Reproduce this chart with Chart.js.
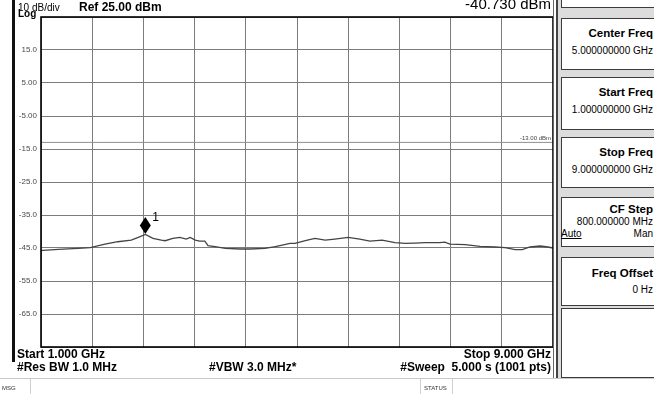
<!DOCTYPE html>
<html>
<head>
<meta charset="utf-8">
<script src="https://cdn.jsdelivr.net/npm/chart.js@4.4.1/dist/chart.umd.min.js"></script>
<style>
  html, body { margin: 0; padding: 0; background: #fff; }
  #screen { position: relative; width: 654px; height: 394px; overflow: hidden; font-family: Arial, "Liberation Sans", sans-serif; color: #000; }
  #screen canvas { position: absolute; left: 0; top: 0; }
  .t { position: absolute; white-space: nowrap; line-height: 1; }
  .b { font-weight: bold; }
  .r { text-align: right; }
  .edge { position: absolute; }
  .key { position: absolute; left: 561px; width: 100px; background: #fff; border: 1.5px solid #3c3c3c; box-sizing: border-box; }
</style>
</head>
<body>
<div id="screen">
  <canvas id="sa" width="654" height="394"></canvas>

  <!-- left frame bar -->
  <div class="edge" style="left:12px;top:0;width:2.5px;height:362px;background:#111"></div>

  <!-- header -->
  <div class="t" style="left:18px;top:2.5px;font-size:10px">10 dB/div</div>
  <div class="t b" style="left:18px;top:8.5px;font-size:10px">Log</div>
  <div class="t b" style="left:79px;top:1px;font-size:12px">Ref 25.00 dBm</div>
  <div class="t r" style="right:103px;top:-3.7px;font-size:15px">-40.730 dBm</div>

  <!-- footer -->
  <div class="t b" style="left:17px;top:348px;font-size:12px">Start 1.000 GHz</div>
  <div class="t b r" style="right:103px;top:348px;font-size:12px">Stop 9.000 GHz</div>
  <div class="t b" style="left:17px;top:361px;font-size:12px">#Res BW 1.0 MHz</div>
  <div class="t b" style="left:209px;top:361px;font-size:12px">#VBW 3.0 MHz*</div>
  <div class="t b r" style="right:103px;top:361px;font-size:12px">#Sweep&nbsp; 5.000 s (1001 pts)</div>

  <!-- status bar -->
  <div class="edge" style="left:0;top:378px;width:654px;height:1px;background:#c8c8c8"></div>
  <div class="edge" style="left:30px;top:379px;width:1px;height:15px;background:#d0d0d0"></div>
  <div class="edge" style="left:420px;top:379px;width:1px;height:15px;background:#d0d0d0"></div>
  <div class="edge" style="left:452px;top:379px;width:1px;height:15px;background:#d0d0d0"></div>
  <div class="t" style="left:2px;top:385px;font-size:6px;color:#333">MSG</div>
  <div class="t" style="left:424px;top:385px;font-size:6px;color:#333">STATUS</div>

  <!-- softkey panel -->
  <div class="edge" style="left:553px;top:0;width:1px;height:378px;background:#666"></div>
  <div class="edge" style="left:556px;top:0;width:2px;height:378px;background:#444"></div>
  <div class="edge" style="left:558px;top:0;width:96px;height:378px;background:#dcdcdc"></div>
  <div class="key" style="top:-6px;height:14px"></div>
  <div class="key" style="top:18px;height:52px"></div>
  <div class="key" style="top:77px;height:53px"></div>
  <div class="key" style="top:137px;height:51px"></div>
  <div class="key" style="top:197px;height:50px"></div>
  <div class="key" style="top:257px;height:49px"></div>
  <div class="key" style="top:308px;height:70px"></div>

  <div class="t b r" style="right:1px;top:28.3px;font-size:11.5px">Center Freq</div>
  <div class="t r" style="right:1px;top:46px;font-size:10px">5.000000000 GHz</div>
  <div class="t b r" style="right:1px;top:87.3px;font-size:11.5px">Start Freq</div>
  <div class="t r" style="right:1px;top:105px;font-size:10px">1.000000000 GHz</div>
  <div class="t b r" style="right:1px;top:147.3px;font-size:11.5px">Stop Freq</div>
  <div class="t r" style="right:1px;top:165px;font-size:10px">9.000000000 GHz</div>
  <div class="t b r" style="right:1px;top:204.3px;font-size:11.5px">CF Step</div>
  <div class="t r" style="right:1px;top:216.5px;font-size:10px">800.000000 MHz</div>
  <div class="t" style="left:561px;top:228.5px;font-size:10px;text-decoration:underline">Auto</div>
  <div class="t r" style="right:1px;top:228.5px;font-size:10px">Man</div>
  <div class="t b r" style="right:1px;top:268.3px;font-size:11.5px">Freq Offset</div>
  <div class="t r" style="right:1px;top:285px;font-size:10px">0 Hz</div>
</div>

<script>
// trace (GHz, dBm)
const freqGHz = [1.00, 1.03, 1.27, 1.58, 1.77, 2.00, 2.20, 2.41, 2.52, 2.63,
  2.75, 2.88, 2.94, 3.06, 3.17, 3.27, 3.33, 3.41, 3.48, 3.56,
  3.61, 3.72, 3.88, 4.11, 4.27, 4.50, 4.66, 4.77, 4.89, 4.97,
  5.13, 5.28, 5.44, 5.59, 5.80, 5.98, 6.14, 6.33, 6.53, 6.69,
  6.84, 7.00, 7.23, 7.31, 7.39, 7.63, 7.86, 8.09, 8.25, 8.41,
  8.52, 8.64, 8.80, 8.92, 9.00];
const levelDbm = [-45.8, -45.7, -45.4, -45.1, -44.9, -43.8, -43.1, -42.6, -41.8, -40.9,
  -42.1, -42.6, -42.8, -42.1, -41.8, -42.3, -41.8, -42.6, -42.9, -42.9,
  -44.3, -44.6, -45.1, -45.3, -45.3, -45.1, -44.6, -44.1, -43.6, -43.6,
  -42.8, -42.1, -42.6, -42.3, -41.8, -42.3, -42.9, -42.6, -43.4, -43.6,
  -43.5, -43.4, -43.4, -43.2, -43.8, -44.0, -44.5, -44.7, -44.9, -45.5,
  -45.5, -44.7, -44.4, -44.7, -45.0];

// marker 1 and display line
const markerFreq = 2.63;
const markerLevel = -40.73;
const displayLine = -13;
const displayLineLabel = '-13.00 dBm';

// axes: 1 - 9 GHz span, ref 25 dBm, 10 dB/div
const spanGHz = [1, 9];
const refRange = [-75, 25];
const yTickValues = [15, 5, -5, -15, -25, -35, -45, -55, -65];
const yTickLabels = ['15.0', '5.00', '-5.00', '-15.0', '-25.0', '-35.0', '-45.0', '-55.0', '-65.0'];

const GRID = '#7c7c7c';

const traceData = freqGHz.map((f, i) => ({ x: f, y: levelDbm[i] }));
const lineData = spanGHz.map(f => ({ x: f, y: displayLine }));

// frame around the graticule, marker diamond, display line label
const screenPlugin = {
  id: 'saScreen',
  afterDatasetsDraw(chart) {
    const { ctx, chartArea: a, scales } = chart;
    ctx.save();

    // display line label
    ctx.font = '6px Arial, sans-serif';
    ctx.fillStyle = '#444';
    ctx.textAlign = 'right';
    ctx.textBaseline = 'bottom';
    ctx.fillText(displayLineLabel, a.right - 2, scales.y.getPixelForValue(displayLine) - 1.5);

    // marker 1
    const mx = scales.x.getPixelForValue(markerFreq);
    const my = scales.y.getPixelForValue(markerLevel);
    ctx.fillStyle = '#000';
    ctx.beginPath();
    ctx.moveTo(mx, my);
    ctx.lineTo(mx + 5.5, my - 8.5);
    ctx.lineTo(mx, my - 17);
    ctx.lineTo(mx - 5.5, my - 8.5);
    ctx.closePath();
    ctx.fill();
    ctx.font = '12px Arial, sans-serif';
    ctx.textAlign = 'left';
    ctx.textBaseline = 'alphabetic';
    ctx.fillText('1', mx + 7, my - 13);

    // frame
    ctx.strokeStyle = '#000';
    ctx.lineWidth = 1.6;
    ctx.strokeRect(a.left, a.top, a.right - a.left, a.bottom - a.top);
    ctx.restore();
  },
};

new Chart(document.getElementById('sa'), {
  type: 'line',
  data: {
    datasets: [
      {
        label: 'Trace 1',
        data: traceData,
        borderColor: '#444',
        borderWidth: 1.3,
        pointRadius: 0,
        tension: 0,
      },
      {
        label: 'Display Line',
        data: lineData,
        borderColor: '#8f8f8f',
        borderWidth: 1,
        pointRadius: 0,
      },
    ],
  },
  options: {
    responsive: false,
    animation: false,
    events: [],
    layout: { padding: { top: 17, right: 101, left: 0, bottom: 0 } },
    plugins: {
      legend: { display: false },
      tooltip: { enabled: false },
    },
    scales: {
      x: {
        type: 'linear',
        min: spanGHz[0],
        max: spanGHz[1],
        ticks: { display: false, stepSize: 0.8 },
        grid: { color: GRID, lineWidth: 1, drawTicks: false },
        border: { display: false },
        afterFit: (s) => { s.height = 47; },
      },
      y: {
        min: refRange[0],
        max: refRange[1],
        ticks: {
          stepSize: 10,
          padding: 4,
          color: '#4a4a4a',
          font: { family: 'Arial', size: 8 },
          callback: (v) => {
            const i = yTickValues.indexOf(v);
            return i >= 0 ? yTickLabels[i] : '';
          },
        },
        grid: { color: GRID, lineWidth: 1, drawTicks: false },
        border: { display: false },
        afterFit: (s) => { s.width = 41; },
      },
    },
  },
  plugins: [screenPlugin],
});
</script>
</body>
</html>
